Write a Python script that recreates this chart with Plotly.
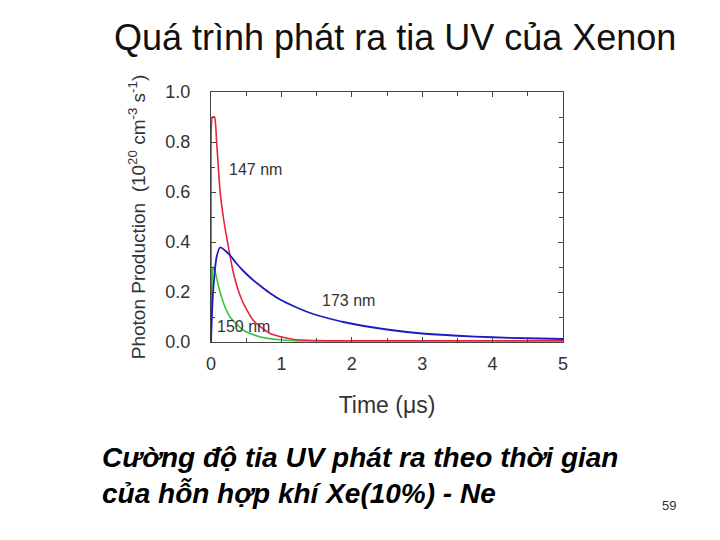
import plotly.graph_objects as go

# 147 nm (red)
red_x = [0, 0.0, 0.02, 0.05, 0.08, 0.13, 0.18, 0.23, 0.32, 0.44, 0.6, 0.84, 1.18, 1.5, 2, 3, 4, 5]
red_y = [0, 0.6, 0.9, 0.9, 0.8, 0.6, 0.49, 0.408, 0.274, 0.167, 0.087, 0.034, 0.01, 0.006, 0.005, 0.005, 0.005, 0.005]
# 150 nm (green)
green_x = [0, 0.01, 0.03, 0.06, 0.11, 0.18, 0.27, 0.46, 0.7, 1.18, 2, 5]
green_y = [0, 0.2, 0.3, 0.28, 0.22, 0.154, 0.1, 0.047, 0.02, 0.005, 0.004, 0.004]
# 173 nm (blue)
blue_x = [0, 0.03, 0.08, 0.13, 0.2, 0.27, 0.36, 0.46, 0.58, 0.7, 0.84, 0.98, 1.2, 1.41, 1.65, 1.88, 2.5, 3, 3.5, 4, 4.5, 5]
blue_y = [0, 0.2, 0.34, 0.378, 0.366, 0.347, 0.315, 0.284, 0.252, 0.225, 0.195, 0.17, 0.14, 0.116, 0.096, 0.08, 0.05, 0.034, 0.025, 0.019, 0.015, 0.012]

labels = ["147 nm", "150 nm", "173 nm"]
label_x = [0.23, 0.06, 1.55]
label_y = [0.69, 0.063, 0.167]

fig = go.Figure()
fig.add_trace(go.Scatter(x=green_x, y=green_y, mode="lines", line=dict(color="#3cc43c", width=1.6, shape="spline", smoothing=0.6)))
fig.add_trace(go.Scatter(x=red_x, y=red_y, mode="lines", line=dict(color="#e8243c", width=1.6, shape="spline", smoothing=0.6)))
fig.add_trace(go.Scatter(x=blue_x, y=blue_y, mode="lines", line=dict(color="#1c1cc0", width=1.8, shape="spline", smoothing=0.8)))

for t, lx, ly in zip(labels, label_x, label_y):
    fig.add_annotation(x=lx, y=ly, text=t, showarrow=False, xanchor="left", yanchor="middle",
                       font=dict(family="Liberation Sans, Arial", size=16, color="#333333"))

fig.update_layout(
    width=720, height=540,
    margin=dict(l=203, r=165, t=84, b=206),
    paper_bgcolor="white", plot_bgcolor="white",
    showlegend=False,
    font=dict(family="Liberation Sans, Arial", color="#333333"),
)
fig.update_xaxes(range=[0, 5], dtick=1, tick0=0, ticks="inside", ticklen=5, mirror="ticks",
                 showline=True, linecolor="#444444", linewidth=1, showgrid=False, zeroline=False,
                 tickfont=dict(size=18, color="#333333"), ticklabelstandoff=5,
                 minor=dict(dtick=0.5, ticks="inside", ticklen=4, showgrid=False),
                 title=dict(text="Time (μs)", font=dict(size=23, color="#333333"), standoff=24))
fig.update_yaxes(range=[0, 1], dtick=0.2, tick0=0, tickformat=".1f", ticks="inside", ticklen=5, mirror="ticks",
                 showline=True, linecolor="#444444", linewidth=1, showgrid=False, zeroline=False,
                 tickfont=dict(size=18, color="#333333"), ticklabelstandoff=16,
                 minor=dict(dtick=0.1, ticks="inside", ticklen=4, showgrid=False),
                 title=dict(text="Photon Production  (10<sup>20</sup> cm<sup>-3</sup> s<sup>-1</sup>)",
                            font=dict(size=19, color="#333333"), standoff=14))

fig.add_annotation(xref="paper", yref="paper", x=(395-211)/352, y=1 + (92-37)/250,
                   text="Quá trình phát ra tia UV của Xenon", showarrow=False, xanchor="center", yanchor="middle",
                   font=dict(family="Liberation Sans, Arial", size=36, color="#111111"))
fig.add_annotation(xref="paper", yref="paper", x=(100-211)/352, y=(342-475)/250,
                   text="<b><i>Cường độ tia UV phát ra theo thời gian<br>của hỗn hợp khí Xe(10%) - Ne</i></b>",
                   showarrow=False, xanchor="left", yanchor="middle", align="left",
                   font=dict(family="Liberation Sans, Arial", size=28, color="#000000"))
fig.add_annotation(xref="paper", yref="paper", x=(678-211)/352, y=(342-505)/250,
                   text="59", showarrow=False, xanchor="right", yanchor="middle",
                   font=dict(family="Liberation Sans, Arial", size=13, color="#333333"))

fig.write_html("out.html")
